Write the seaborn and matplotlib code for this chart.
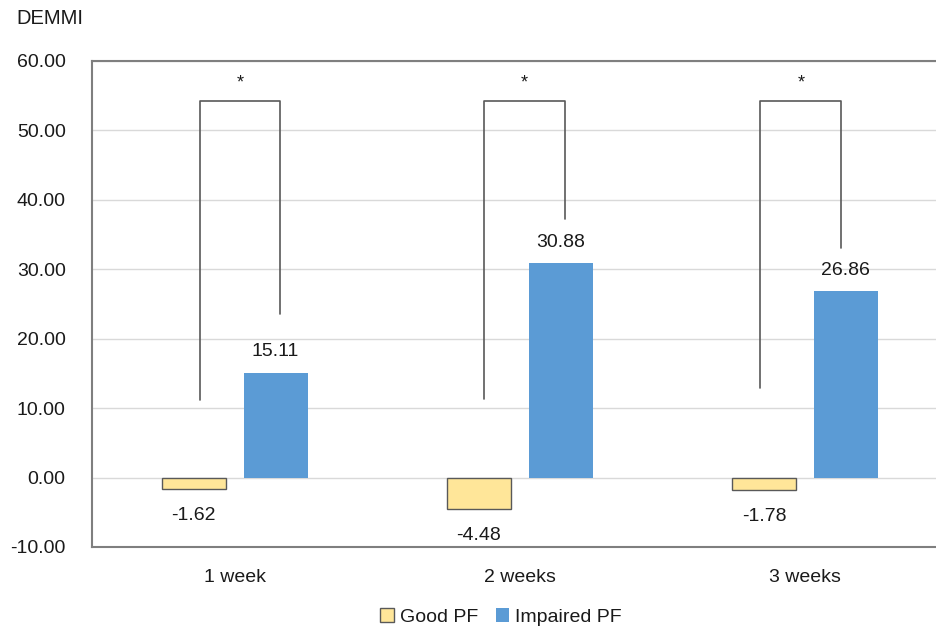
import matplotlib
matplotlib.use("Agg")
import matplotlib.pyplot as plt
from matplotlib.patches import Patch
import pandas as pd
import seaborn as sns

# Werte
wochen = ["1 week", "2 weeks", "3 weeks"]
good_pf = [-1.62, -4.48, -1.78]
impaired_pf = [15.11, 30.88, 26.86]
gruppen = ["Good PF", "Impaired PF"]
y_ticks = [-10, 0, 10, 20, 30, 40, 50, 60]

# Signifikanz-Klammern (y-Werte in Achseneinheiten)
klammer_links_unten = [11.2, 11.3, 12.85]
klammer_oben = [54.2, 54.2, 54.2]
klammer_rechts_unten = [23.6, 37.2, 33.0]
sterne = ["*", "*", "*"]

df = pd.DataFrame({
    "Woche": wochen * 2,
    "Wert": good_pf + impaired_pf,
    "Gruppe": [gruppen[0]] * 3 + [gruppen[1]] * 3,
})

gelb = "#FFE699"
blau = "#5B9BD5"
rand = "#595959"
text_farbe = "#1a1a1a"
fs = 14

sns.set_theme(style="white")
plt.rcParams["font.family"] = ["Liberation Sans", "DejaVu Sans"]

fig = plt.figure(figsize=(9.36, 6.28), dpi=100)
ax = fig.add_axes([0.0983, 0.129, 0.914, 0.774])

sns.barplot(data=df, x="Woche", y="Wert", hue="Gruppe", hue_order=gruppen,
            palette=[gelb, blau], saturation=1, width=0.575, gap=0.22,
            legend=False, ax=ax, zorder=3)

# Rand nur bei den gelben Balken
for p in ax.containers[0]:
    p.set_edgecolor(rand)
    p.set_linewidth(1.0)
for p in ax.containers[1]:
    p.set_edgecolor("none")

# Datenbeschriftungen
for cont in ax.containers:
    for p in cont:
        h = p.get_height()
        x = p.get_x() + p.get_width() / 2
        off = 15 if h > 0 else -19
        ax.annotate(f"{h:.2f}", (x, h), xytext=(0, off), textcoords="offset points",
                    ha="center", va="center", fontsize=fs, color=text_farbe)

# Klammern mit Sternchen
links_off = [-0.122, -0.124, -0.156]
rechts_off = [0.159, 0.157, 0.127]
for i in range(len(wochen)):
    xl = i + links_off[i]
    xr = i + rechts_off[i]
    ax.plot([xl, xl, xr, xr],
            [klammer_links_unten[i], klammer_oben[i], klammer_oben[i], klammer_rechts_unten[i]],
            color=rand, lw=1.2, zorder=4)
    ax.text((xl + xr) / 2, klammer_oben[i] + 2.6, sterne[i], ha="center", va="center",
            fontsize=13, color=text_farbe)

ax.set_xlim(-0.5, 2.5)
ax.set_ylim(-10, 60)
ax.set_yticks(y_ticks)
ax.set_yticklabels([f"{v:.2f}" for v in y_ticks])
ax.yaxis.grid(True, color="#d9d9d9", lw=1, zorder=0)
ax.set_axisbelow(True)
ax.set_xlabel("")
ax.set_ylabel("")
ax.tick_params(axis="y", length=0, pad=19, labelsize=fs, labelcolor=text_farbe)
ax.tick_params(axis="x", length=0, pad=16, labelsize=fs, labelcolor=text_farbe)
for s in ["left", "top", "bottom"]:
    ax.spines[s].set_color("#7f7f7f")
    ax.spines[s].set_linewidth(1.5)
ax.spines["right"].set_visible(False)

fig.text(16 / 936, 1 - 18 / 628, "DEMMI", ha="left", va="center", fontsize=14.5, color=text_farbe)

handles = [Patch(facecolor=gelb, edgecolor=rand, lw=1.0), Patch(facecolor=blau, edgecolor="none")]
fig.legend(handles, gruppen, loc="center", bbox_to_anchor=(501 / 936, 1 - 617 / 628), ncol=2,
           frameon=False, handlelength=0.7, handleheight=0.7, handletextpad=0.3,
           columnspacing=0.9, fontsize=fs, labelcolor=text_farbe)

fig.savefig("out.png", dpi=100)
